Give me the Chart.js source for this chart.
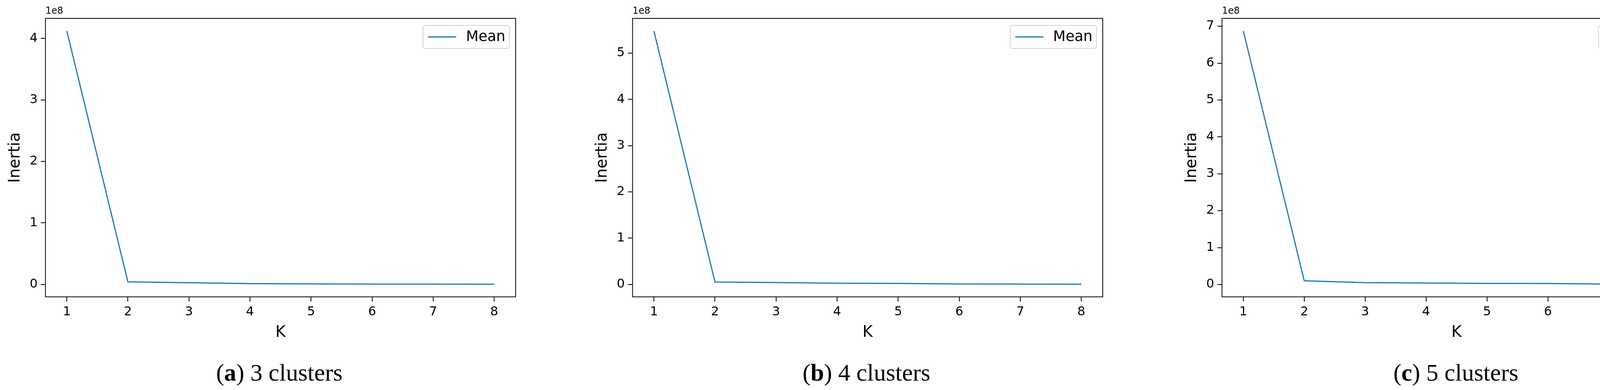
<!DOCTYPE html>
<html><head><meta charset="utf-8">
<script src="https://cdn.jsdelivr.net/npm/chart.js@4/dist/chart.umd.min.js"></script>
<style>
body{margin:0;width:4349px;height:998px;background:#fff;position:relative;overflow:hidden}
canvas{position:absolute;top:0}
.cap{position:absolute;top:918px;width:1340px;text-align:center;font-family:"Liberation Serif",serif;font-size:62px;color:#000}
</style></head>
<body>
<canvas id="c1" width="1340" height="880" style="left:0"></canvas>
<canvas id="c2" width="1340" height="880" style="left:1503px"></canvas>
<canvas id="c3" width="1337" height="880" style="left:3012px"></canvas>
<div class="cap" style="left:45px">(<b>a</b>) 3 clusters</div>
<div class="cap" style="left:1548px">(<b>b</b>) 4 clusters</div>
<div class="cap" style="left:3057px">(<b>c</b>) 5 clusters</div>
<script>
// K values and mean inertia (units of 1e8)
const K = [1, 2, 3, 4, 5, 6, 7, 8];
const inertia3 = [4.12, 0.04, 0.025, 0.012, 0.006, 0.004, 0.003, 0.002];
const inertia4 = [5.48, 0.05, 0.04, 0.025, 0.02, 0.008, 0.005, 0.004];
const inertia5 = [6.87, 0.1, 0.05, 0.04, 0.03, 0.025, 0.01, 0.008];
const yTicks3 = [0, 1, 2, 3, 4];
const yTicks4 = [0, 1, 2, 3, 4, 5];
const yTicks5 = [0, 1, 2, 3, 4, 5, 6, 7];

const frame = {
    id: 'frame',
    afterDraw(chart) {
        const ctx = chart.ctx, a = chart.chartArea;
        ctx.save();
        ctx.strokeStyle = '#000';
        ctx.lineWidth = 2;
        ctx.strokeRect(a.left, a.top, a.right - a.left, a.bottom - a.top);
        // legend box, matplotlib style, top right inside the plot
        const w = 221, h = 59, lx = a.right - 16 - w, ly = a.top + 18;
        ctx.fillStyle = 'rgba(255,255,255,0.8)';
        ctx.strokeStyle = '#d4d4d4';
        ctx.beginPath();
        ctx.roundRect(lx, ly, w, h, 6);
        ctx.fill();
        ctx.stroke();
        ctx.strokeStyle = '#1f77b4';
        ctx.lineWidth = 3;
        ctx.beginPath();
        ctx.moveTo(lx + 13, ly + h / 2);
        ctx.lineTo(lx + 85, ly + h / 2);
        ctx.stroke();
        ctx.fillStyle = '#000';
        ctx.font = '37px "DejaVu Sans"';
        ctx.textBaseline = 'middle';
        ctx.fillText(chart.data.datasets[0].label, lx + 110, ly + h / 2 + 1);
        ctx.font = '24px "DejaVu Sans"';
        ctx.textBaseline = 'bottom';
        ctx.fillText('1e8', a.left, a.top - 6);
        ctx.restore();
    }
};

function DrawChart(id, data, yTicks) {
    const lo = Math.min(...data), hi = Math.max(...data), pad = (hi - lo) * 0.05;
    new Chart(document.getElementById(id), {
        type: 'line',
        data: {
            datasets: [{
                label: 'Mean',
                data: K.map((k, i) => ({x: k, y: data[i]})),
                borderColor: '#1f77b4',
                backgroundColor: '#1f77b4',
                borderWidth: 3,
                pointRadius: 0,
                tension: 0
            }]
        },
        options: {
            animation: false,
            responsive: false,
            devicePixelRatio: 1,
            layout: {padding: {top: 47, right: 20, left: 12}},
            plugins: {legend: {display: false}, tooltip: {enabled: false}},
            scales: {
                x: {
                    type: 'linear',
                    min: 0.65, max: 8.35,
                    afterBuildTicks: s => { s.ticks = K.map(v => ({value: v})); },
                    grid: {drawOnChartArea: false, color: '#000', tickLength: 12, lineWidth: 2},
                    border: {display: false},
                    ticks: {font: {family: 'DejaVu Sans', size: 32}, color: '#000', padding: 8},
                    title: {display: true, text: 'K', font: {family: 'DejaVu Sans', size: 40}, color: '#000', padding: {top: 2}}
                },
                y: {
                    min: lo - pad, max: hi + pad,
                    afterBuildTicks: s => { s.ticks = yTicks.map(v => ({value: v})); },
                    grid: {drawOnChartArea: false, color: '#000', tickLength: 12, lineWidth: 2},
                    border: {display: false},
                    ticks: {font: {family: 'DejaVu Sans', size: 32}, color: '#000', padding: 8},
                    title: {display: true, text: 'Inertia', font: {family: 'DejaVu Sans', size: 40}, color: '#000'}
                }
            }
        },
        plugins: [frame]
    });
}

DrawChart('c1', inertia3, yTicks3);
DrawChart('c2', inertia4, yTicks4);
DrawChart('c3', inertia5, yTicks5);
</script>
</body></html>
